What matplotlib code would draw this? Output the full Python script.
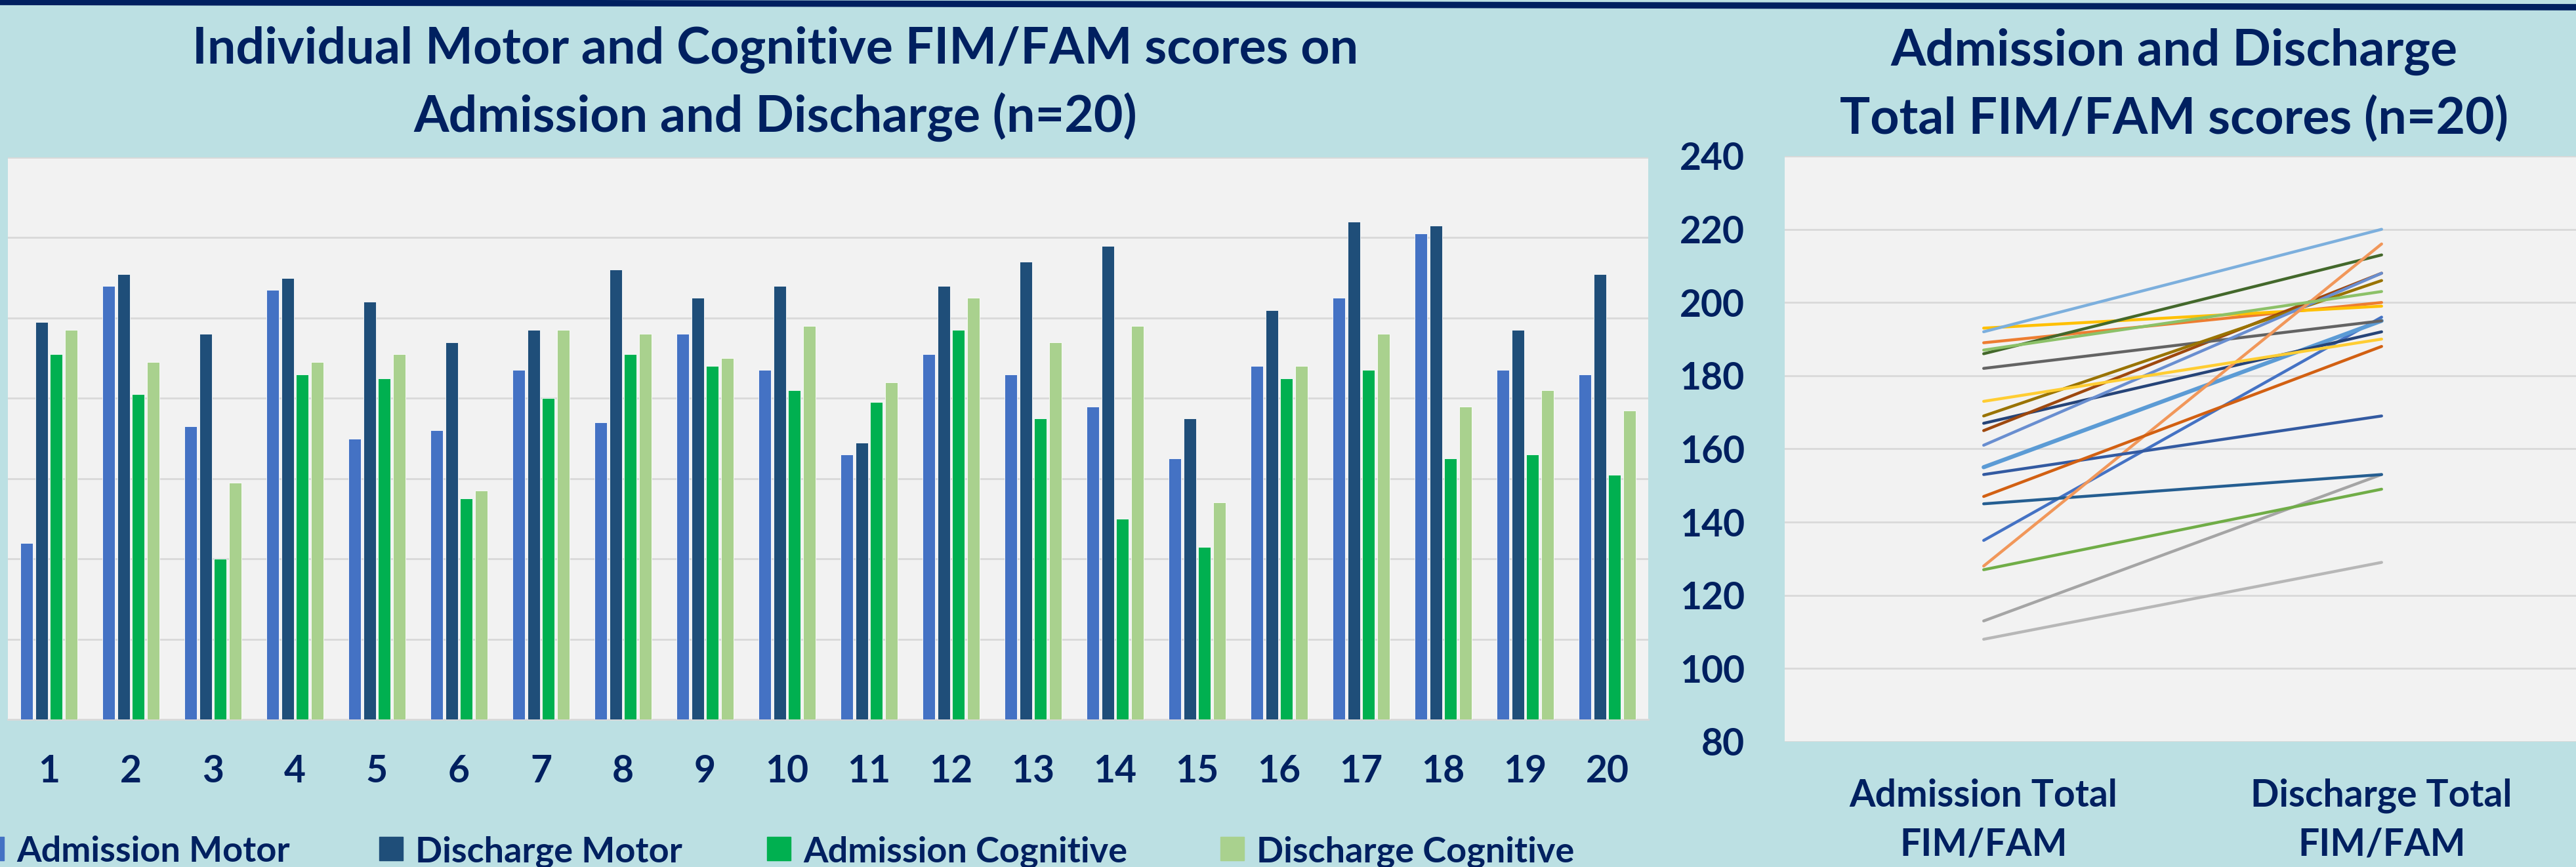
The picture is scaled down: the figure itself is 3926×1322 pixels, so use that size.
import matplotlib
matplotlib.use('Agg')
import matplotlib.pyplot as plt
import numpy as np
from matplotlib.patches import Rectangle
from matplotlib.lines import Line2D

# individual scores per patient (left chart)
patients = [str(i) for i in range(1, 21)]
adm_motor = [44, 108, 73, 107, 70, 72, 87, 74, 96, 87, 66, 91, 86, 78, 65, 88, 105, 121, 87, 86]
dis_motor = [99, 111, 96, 110, 104, 94, 97, 112, 105, 108, 69, 108, 114, 118, 75, 102, 124, 123, 97, 111]
adm_cog = [91, 81, 40, 86, 85, 55, 80, 91, 88, 82, 79, 97, 75, 50, 43, 85, 87, 65, 66, 61]
dis_cog = [97, 89, 59, 89, 91, 57, 97, 96, 90, 98, 84, 105, 94, 98, 54, 88, 96, 78, 82, 77]
series_names = ['Admission Motor', 'Discharge Motor', 'Admission Cognitive', 'Discharge Cognitive']

# totals (right chart)
adm_total = [135, 189, 113, 193, 155, 127, 167, 165, 182, 169, 145, 186, 161, 128, 108, 173, 192, 187, 153, 147]
dis_total = [196, 200, 153, 199, 195, 149, 192, 208, 195, 206, 153, 213, 208, 216, 129, 190, 220, 203, 169, 188]
total_labels = ['Admission Total\nFIM/FAM', 'Discharge Total\nFIM/FAM']

NAVY = '#002060'
BG = '#BCE0E3'
PLOT_BG = '#F2F2F2'
GRID = '#D9D9D9'
FONT = ['Lato', 'DejaVu Sans']
bar_colors = ['#4472C4', '#1F4E79', '#00B050', '#A9D18E']
line_colors = ['#4472C4', '#ED7D31', '#A5A5A5', '#FFC000', '#5B9BD5', '#70AD47', '#264478',
               '#9E480E', '#636363', '#997300', '#255E91', '#43682B', '#698ED0', '#F1975A',
               '#B7B7B7', '#FFCD33', '#7CAFDD', '#8CC168', '#335AA1', '#D26012']

W, H = 3926, 1322
fig = plt.figure(figsize=(W / 100, H / 100), dpi=100, facecolor=BG)


def fx(px):
    return px / W


def fy(py):
    return 1 - py / H


# top rule
fig.add_artist(Line2D([0, 1], [fy(3), fy(11)], color=NAVY, lw=7, transform=fig.transFigure))

# ---- left: grouped bars ----
ax1 = fig.add_axes([fx(12), fy(1097), fx(2500), 857 / H])
ax1.set_facecolor(PLOT_BG)
x = np.arange(1, 21)
offsets = [-0.27, -0.09, 0.09, 0.27]
for vals, off, col in zip([adm_motor, dis_motor, adm_cog, dis_cog], offsets, bar_colors):
    ax1.bar(x + off, vals, width=0.15, color=col, edgecolor='white', linewidth=0.6, zorder=3)
ax1.set_xlim(0.5, 20.5)
ax1.set_ylim(0, 140)
ax1.set_yticks(range(0, 141, 20))
ax1.yaxis.grid(True, color=GRID, lw=2, zorder=0)
ax1.set_xticks(x)
ax1.set_xticklabels(patients)
ax1.tick_params(axis='x', length=0, pad=38, labelsize=41, labelcolor=NAVY)
ax1.tick_params(axis='y', length=0, labelleft=False)
for lab in ax1.get_xticklabels():
    lab.set_family(FONT)
    lab.set_fontweight('bold')
for s in ['top', 'left', 'right']:
    ax1.spines[s].set_visible(False)
ax1.spines['bottom'].set_color(GRID)
ax1.spines['bottom'].set_linewidth(2)

# legend drawn in figure pixels
leg_x = [-30, 578, 1169, 1860]
for lx, col, name in zip(leg_x, bar_colors, series_names):
    fig.add_artist(Rectangle((fx(lx), fy(1312)), fx(36), 36 / H, color=col,
                             transform=fig.transFigure))
    fig.text(fx(lx + 55), fy(1294), name, fontsize=39, fontweight='bold', color=NAVY,
             family=FONT, va='center_baseline', ha='left')

# titles
title_kw = dict(fontsize=55.5, fontweight='bold', color=NAVY, family=FONT, ha='center', va='baseline')
fig.text(fx(1182), fy(97), 'Individual Motor and Cognitive FIM/FAM scores on', **title_kw)
fig.text(fx(1182), fy(201), 'Admission and Discharge (n=20)', **title_kw)
fig.text(fx(3313), fy(100), 'Admission and Discharge', **title_kw)
fig.text(fx(3313), fy(204), 'Total FIM/FAM scores (n=20)', **title_kw)

# ---- right: slope lines ----
ax2 = fig.add_axes([fx(2720), fy(1131), fx(1213), 893 / H])
ax2.set_facecolor(PLOT_BG)
for i in range(len(adm_total)):
    lw = 4.5 if i == 4 else 3.2
    ax2.plot([0, 1], [adm_total[i], dis_total[i]], color=line_colors[i], lw=lw,
             solid_capstyle='round', zorder=3)
ax2.set_xlim(-0.5, 1.5)
ax2.set_ylim(80, 240)
ax2.set_yticks(range(80, 241, 20))
ax2.yaxis.grid(True, color=GRID, lw=2, zorder=0)
ax2.set_xticks([0, 1])
ax2.set_xticklabels(total_labels, linespacing=1.5)
ax2.tick_params(axis='x', length=0, pad=40, labelsize=41, labelcolor=NAVY)
ax2.tick_params(axis='y', length=0, pad=44, labelsize=41, labelcolor=NAVY)
for lab in ax2.get_xticklabels() + ax2.get_yticklabels():
    lab.set_family(FONT)
    lab.set_fontweight('bold')
for s in ax2.spines.values():
    s.set_visible(False)

fig.savefig('out.png', dpi=100, facecolor=BG)
